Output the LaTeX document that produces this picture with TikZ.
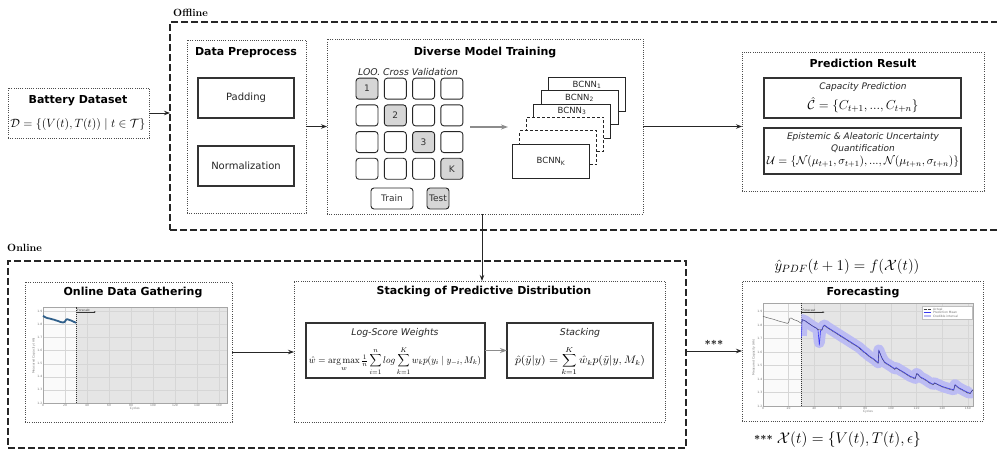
\RequirePackage{fix-cm}
\documentclass[tikz,border=0pt]{standalone}
\usepackage[no-math]{fontspec}
\usepackage{graphicx}
\usetikzlibrary{arrows.meta}
\newfontfamily\djs{DejaVu Sans}
\definecolor{cellgray}{HTML}{D6D6D6}
\definecolor{capblue}{HTML}{2F5F8A}
\definecolor{bandblue}{HTML}{BCBCF3}
\definecolor{meanblue}{HTML}{3838F0}

% axes, background, grid and ticks of a capacity-vs-cycles chart (#1 = last cycle, #2 = top capacity)
\newcommand\capframe[2]{%
  \fill[black!2] (0,1.2) rectangle (30,#2);
  \fill[black!10] (30,1.2) rectangle (#1,#2);
  \foreach \c in {20,40,...,160}{\draw[gridln] (\c,1.2) -- (\c,#2);}
  \foreach \v in {1.3,1.4,1.5,1.6,1.7,1.8,1.9}{\draw[gridln] (0,\v) -- (#1,\v);}
  \draw[black!35, line width=0.4pt] (0,1.2) rectangle (#1,#2);
  \foreach \c in {0,20,...,160}{\node[tick, anchor=north] at (\c,1.2) {\c};}
  \foreach \v in {1.2,1.3,1.4,1.5,1.6,1.7,1.8,1.9}{\node[tick, anchor=east] at (0,\v) {\v};}
  \node[tick, anchor=north, yshift=-3.8pt] at (#1/2,1.2) {Cycles};
  \node[tick, anchor=south, rotate=90, yshift=7pt] at (0,1.56) {Measured Capacity (Ah)};
  \draw[black!80, line width=0.5pt, dash pattern=on 1.2pt off 0.8pt] (30,1.2) -- (30,#2);
  \node[tick, anchor=south west, inner sep=0.3pt, text=black!75] at (30.6,1.898) {Forecast};
  \draw[black!80, line width=0.35pt, -{Stealth[length=2pt,width=1.6pt]}] (30,1.895) -- (48,1.895);
}

\begin{document}
\begin{tikzpicture}[x=1pt,y=-1pt,
  bigframe/.style={draw=black!85, line width=1.8pt, dash pattern=on 7pt off 3pt,
    inner sep=0pt, outer sep=0pt, anchor=north west},
  dotframe/.style={draw=black!70, line width=0.9pt, dash pattern=on 0.9pt off 1.3pt,
    inner sep=0pt, outer sep=0pt, anchor=north west},
  solidbox/.style={draw=black!80, line width=1.1pt, inner sep=0pt, outer sep=0pt,
    anchor=north west, fill=white},
  cell/.style={draw=black!85, line width=0.9pt, rounded corners=3pt, minimum width=22pt,
    minimum height=21pt, inner sep=0pt, font=\djs\fontsize{9}{10}\selectfont, text=black!80},
  card/.style={draw=black!85, fill=white, line width=1pt, anchor=north west, inner sep=0pt,
    minimum width=77pt, minimum height=34pt},
  dashcard/.style={card, dash pattern=on 3pt off 2pt},
  cardtxt/.style={font=\djs\fontsize{8.5}{10}\selectfont, text=black!85, inner sep=0pt},
  ttl/.style={font=\djs\bfseries\fontsize{11}{13}\selectfont, inner sep=0pt},
  lbl/.style={font=\djs\fontsize{10}{12}\selectfont, text=black!85},
  itl/.style={font=\djs\itshape\fontsize{9.3}{11}\selectfont, text=black!85, inner sep=0pt},
  sec/.style={font=\bfseries\fontsize{10.5}{12}\selectfont, anchor=west, inner sep=0pt},
  arr/.style={draw=black!85, line width=0.9pt, -{Stealth[length=6pt,width=4.5pt]}},
  garr/.style={draw=black!45, line width=1.2pt, -{Stealth[length=7pt,width=5pt]}},
  gridln/.style={draw=black!16, line width=0.3pt},
  tick/.style={font=\djs\fontsize{3}{3.5}\selectfont, text=black!55, inner sep=0.6pt},
]
\path[use as bounding box] (0,0) rectangle (997,449);
\clip (0,0) rectangle (997,449);

% ---------- stage frames ----------
\node[bigframe, minimum width=840pt, minimum height=208pt] (offline) at (170,22) {};
\node[bigframe, minimum width=678pt, minimum height=187pt] (online) at (8,261) {};
\node[sec] (offlbl) at (173,12.5) {Offline};
\node[sec] (onlbl) at (7,248) {Online};

% ---------- battery dataset ----------
\node[dotframe, minimum width=141pt, minimum height=50pt] (bat) at (8,88) {};
\node[ttl] (battl) at (78,101) {Battery Dataset};
\node[font=\fontsize{12}{14}\selectfont, inner sep=0pt] (batf) at (78,125)
  {$\mathcal{D} = \{(V(t),T(t)) \mid t \in \mathcal{T}\}$};
\draw[arr] (bat.east) -- (bat.east -| offline.west);

% ---------- data preprocess ----------
\node[dotframe, minimum width=119pt, minimum height=173pt] (prep) at (187,40) {};
\node[ttl] (prept) at (246,53) {Data Preprocess};
\node[solidbox, lbl, minimum width=96pt, minimum height=40pt] (pad) at (198,78) {Padding};
\node[solidbox, lbl, minimum width=96pt, minimum height=40pt] (norm) at (198,146) {Normalization};

% ---------- diverse model training ----------
\node[dotframe, minimum width=316pt, minimum height=175pt] (train) at (327,39) {};
\node[ttl] (traint) at (485,53) {Diverse Model Training};
\draw[arr] (prep.east) -- (prep.east -| train.west);
\node[itl] (loo) at (408,72) {LOO. Cross Validation};
\foreach \r in {0,1,2,3}{
  \foreach \c in {0,1,2,3}{
    \ifnum\r=\c\relax\else
      \node[cell] (g\r\c) at ({367+28.3*\c},{88.7+26.7*\r}) {};
    \fi
  }
}
\foreach \r/\t in {0/1,1/2,2/3,3/K}{
  \node[cell, fill=cellgray] (g\r\r) at ({367+28.3*\r},{88.7+26.7*\r}) {\t};
}
\node[cell, minimum width=42pt] (trn) at (392,198.5) {Train};
\node[cell, fill=cellgray] (tst) at (438,198.5) {Test};

% model stack
\node[card] (m1) at (548,77) {};
\node[cardtxt] (m1t) at ([yshift=-8pt]m1.north) {BCNN\textsubscript{1}};
\node[card] (m2) at (540.5,90.5) {};
\node[cardtxt] (m2t) at ([yshift=-7.5pt]m2.north) {BCNN\textsubscript{2}};
\node[card] (m3) at (533,104) {};
\node[cardtxt] (m3t) at ([yshift=-7pt]m3.north) {BCNN\textsubscript{3}};
\node[dashcard] (m4) at (526,117) {};
\node[dashcard] (m5) at (519,130.5) {};
\node[card] (mK) at (512,144) {};
\node[cardtxt] (mKt) at (mK.center) {BCNN\textsubscript{K}};
\coordinate (gridout) at (470,127);
\coordinate (stackin) at (508,127);
\draw[garr] (gridout) -- (stackin);

% ---------- prediction result ----------
\node[dotframe, minimum width=242pt, minimum height=139pt] (pred) at (742,52) {};
\node[ttl] (predt) at (863,63) {Prediction Result};
\draw[arr] (train.east) -- (train.east -| pred.west);
\node[solidbox, minimum width=197pt, minimum height=40pt] (cap) at (764,78) {};
\node[itl, font=\djs\itshape\fontsize{9}{11}\selectfont] (capt) at (863,87.5) {Capacity Prediction};
\node[font=\fontsize{13}{15}\selectfont, inner sep=0pt] (capf) at (863,105)
  {$\hat{\mathcal{C}} = \{C_{t+1},...,C_{t+n}\}$};
\node[solidbox, minimum width=197pt, minimum height=46pt] (unc) at (764,128) {};
\node[itl, font=\djs\itshape\fontsize{9}{11}\selectfont] (unct1) at (863,137.5) {Epistemic \& Aleatoric Uncertainty};
\node[itl, font=\djs\itshape\fontsize{9}{11}\selectfont] (unct2) at (863,148.5) {Quantification};
\node[font=\fontsize{11.5}{13}\selectfont, inner sep=0pt] (uncf) at (863,162)
  {$\mathcal{U} = \{\mathcal{N}(\mu_{t+1},\sigma_{t+1}),...,\mathcal{N}(\mu_{t+n},\sigma_{t+n})\}$};

% ---------- online data gathering ----------
\node[dotframe, minimum width=207pt, minimum height=140pt] (gath) at (25,282) {};
\node[ttl] (gatht) at (133,293) {Online Data Gathering};
\begin{scope}[shift={(43,403)}]
\begin{scope}[x=1.1pt, y=131pt, shift={(0,-1.2)}]
  \capframe{167}{1.935}
  \draw[capblue, line width=1.8pt, line join=round] plot coordinates {
    (0,1.865) (2,1.855) (4,1.848) (6,1.845) (8,1.84) (10,1.836) (12,1.83) (14,1.825)
    (16,1.818) (18,1.815) (19,1.816) (20,1.822) (21,1.836) (22,1.84) (24,1.834)
    (26,1.828) (28,1.82) (30,1.812)};
\end{scope}
\end{scope}

% ---------- stacking of predictive distribution ----------
\node[dotframe, minimum width=371pt, minimum height=141pt] (stack) at (294,281) {};
\node[ttl] (stackt) at (484,292) {Stacking of Predictive Distribution};
\draw[arr] (gath.east) -- (gath.east -| stack.west);
\draw[arr] ([xshift=-3pt]train.south) -- ([xshift=-3pt]train.south |- stack.north);
\node[solidbox, minimum width=179pt, minimum height=55pt] (lsw) at (306,323) {};
\node[itl] (lswt) at (395,333) {Log-Score Weights};
\node[inner sep=0pt] (lswf) at (395,361) {\scalebox{0.84}[0.88]{\fontsize{11}{13}\selectfont
  $\displaystyle \hat{w} = \mathop{\arg\max}_{w} {\textstyle\frac{1}{n}}\sum_{i=1}^{n} log \sum_{k=1}^{K} w_k p(y_i \mid y_{-i}, M_k)$}};
\node[solidbox, minimum width=146pt, minimum height=55pt] (stk) at (507,323) {};
\node[itl] (stkt) at (580,333) {Stacking};
\node[inner sep=0pt] (stkf) at (580,361)
  {\scalebox{1}[0.9]{\fontsize{12}{14}\selectfont$\displaystyle \hat{p}(\tilde{y}|y) = \sum_{k=1}^{K} \hat{w}_k p(\tilde{y}|y, M_k)$}};
\draw[garr] (lsw.east) -- (stk.west);

% ---------- forecasting ----------
\node[dotframe, minimum width=241pt, minimum height=140pt] (fc) at (742,281) {};
\node[ttl] (fct) at (863,293) {Forecasting};
\node[font=\fontsize{15}{17}\selectfont, inner sep=0pt] (fcf) at (847,267)
  {$\hat{y}_{PDF}(t+1) = f(\mathcal{X}(t))$};
\draw[arr] (online.east |- fc.west) -- node[above, inner sep=2pt, font=\bfseries\fontsize{11}{12}\selectfont] {***} (fc.west);
\node[anchor=west, inner sep=0pt] (foot) at (754,440)
  {\bfseries\fontsize{11}{12}\selectfont ***\ \mdseries\fontsize{15.5}{17}\selectfont$\mathcal{X}(t) = \{V(t),T(t),\epsilon\}$};
\begin{scope}[shift={(763,406)}]
\begin{scope}[x=1.28pt, y=135pt, shift={(0,-1.2)}]
  \capframe{164}{1.963}
  \begin{scope}
    \clip (30,1.2) rectangle (164,1.963);
    \draw[bandblue, line width=11pt, line join=round] plot coordinates {
      (30,1.72) (30.5,1.84) (33,1.83) (36,1.81) (39,1.79) (42,1.775) (43,1.76) (44,1.67)
      (45,1.76) (46,1.765) (47,1.79) (48,1.80) (50,1.785) (55,1.755) (60,1.725) (65,1.695)
      (70,1.665) (75,1.635) (78,1.61) (79,1.60) (80,1.595) (83,1.57) (87,1.545) (90,1.52)
      (90.5,1.615) (91,1.60) (93,1.555) (95,1.525) (100,1.495) (103,1.475) (104,1.485)
      (105,1.478) (110,1.45) (115,1.42) (119,1.405) (120,1.44) (121,1.435) (123,1.415)
      (127,1.395) (130,1.375) (133,1.36) (134,1.372) (136,1.362) (140,1.345) (145,1.33)
      (149,1.32) (150,1.358) (151,1.35) (153,1.335) (157,1.315) (160,1.30) (162,1.295)
      (163,1.31) (164,1.32)};
    \draw[meanblue, line width=0.6pt, line join=round] plot coordinates {
      (30,1.70) (30.5,1.84) (33,1.83) (36,1.81) (39,1.79) (42,1.775) (43,1.76) (44,1.65)
      (45,1.76) (46,1.765) (47,1.79) (48,1.80) (50,1.785) (55,1.755) (60,1.725) (65,1.695)
      (70,1.665) (75,1.635) (78,1.61) (79,1.60) (80,1.595) (83,1.57) (87,1.545) (90,1.52)
      (90.5,1.615) (91,1.60) (93,1.555) (95,1.525) (100,1.495) (103,1.475) (104,1.485)
      (105,1.478) (110,1.45) (115,1.42) (119,1.405) (120,1.44) (121,1.435) (123,1.415)
      (127,1.395) (130,1.375) (133,1.36) (134,1.372) (136,1.362) (140,1.345) (145,1.33)
      (149,1.32) (150,1.358) (151,1.35) (153,1.335) (157,1.315) (160,1.30) (162,1.295)
      (163,1.31) (164,1.32)};
    \draw[black!70, line width=0.45pt, dash pattern=on 1pt off 0.6pt, line join=round] plot coordinates {
      (30,1.812) (31,1.84) (33,1.83) (36,1.81) (39,1.792) (42,1.775) (43,1.765) (44,1.77)
      (46,1.76) (47,1.785) (48,1.795) (50,1.78) (55,1.75) (60,1.72) (65,1.69) (70,1.66)
      (75,1.63) (78,1.60) (79,1.595) (80,1.59) (83,1.565) (87,1.54) (90,1.515) (90.5,1.61)
      (91,1.60) (93,1.55) (95,1.52) (100,1.49) (103,1.47) (104,1.48) (105,1.475) (110,1.445)
      (115,1.415) (119,1.40) (120,1.44) (121,1.435) (123,1.41) (127,1.39) (130,1.37)
      (133,1.355) (134,1.37) (136,1.36) (140,1.34) (145,1.325) (149,1.315) (150,1.355)
      (151,1.345) (153,1.33) (157,1.31) (160,1.295) (162,1.29) (163,1.31) (164,1.32)};
  \end{scope}
  \draw[black!60, line width=0.5pt, line join=round] plot coordinates {
    (0,1.865) (2,1.858) (5,1.85) (8,1.843) (12,1.83) (16,1.82) (19,1.812) (20,1.818)
    (21,1.85) (22,1.852) (24,1.84) (27,1.83) (30,1.812)};
  % legend
  \draw[black!25, fill=white, line width=0.25pt] (124,1.937) rectangle (163,1.846);
  \draw[black!75, line width=0.4pt, dash pattern=on 0.8pt off 0.5pt] (125.5,1.917) -- (131.5,1.917);
  \node[tick, anchor=west, inner sep=0.3pt] at (132.5,1.917) {Actual};
  \draw[meanblue, line width=0.5pt] (125.5,1.891) -- (131.5,1.891);
  \node[tick, anchor=west, inner sep=0.3pt] at (132.5,1.891) {Prediction Mean};
  \fill[bandblue] (125.5,1.872) rectangle (131.5,1.858);
  \node[tick, anchor=west, inner sep=0.3pt] at (132.5,1.865) {Credible interval};
\end{scope}
\end{scope}
\end{tikzpicture}
\end{document}
